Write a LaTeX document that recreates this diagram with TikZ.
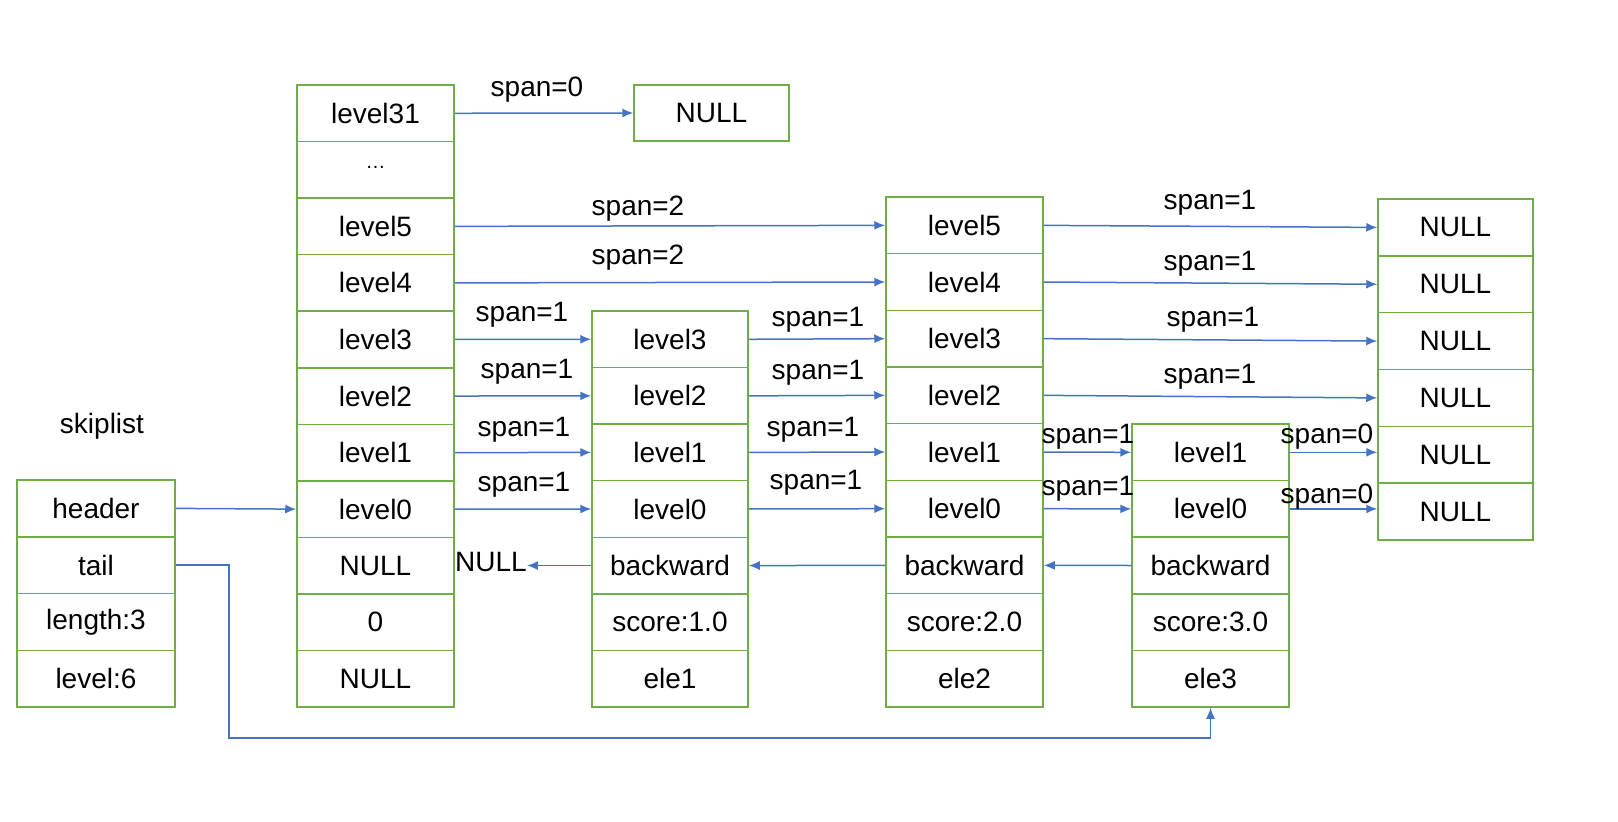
\documentclass[tikz,border=0pt]{standalone}
\usepackage{fontspec}
\setmainfont{Liberation Sans}
\usetikzlibrary{arrows.meta}
\definecolor{cgreen}{RGB}{112,173,71}
\definecolor{cblue}{RGB}{68,114,196}
\begin{document}
\begin{tikzpicture}[x=1pt,y=-1pt,
  cell/.style={draw=cgreen,line width=1.5pt,rectangle,inner sep=0pt,font=\fontsize{28}{30}\selectfont},
  arr/.style={draw=cblue,line width=1.5pt,-{Latex[length=11pt,width=9pt]}},
  lbl/.style={inner sep=0pt,font=\fontsize{28}{30}\selectfont},
  every node/.style={text=black}]
\useasboundingbox (0,0) rectangle (1618,822);
% skiplist struct
\node[lbl] (title) at (102,426) {skiplist};
\foreach \t [count=\i from 0] in {header,tail,length:3,level:6}
  \node[cell,minimum width=158pt,minimum height=56.75pt] (S\i) at (96,{480+(\i+0.5)*56.75}) {\t};
% header column
\foreach \t [count=\i from 0] in {level31,\raisebox{4pt}{\fontsize{20}{20}\selectfont\ldots},level5,level4,level3,level2,level1,level0,NULL,0,NULL}
  \node[cell,minimum width=157pt,minimum height=56.55pt] (H\i) at (375.5,{85+(\i+0.5)*56.55}) {\t};
% top NULL
\node[cell,minimum width=155pt,minimum height=56pt] (N0) at (711.5,113) {NULL};
% node 1
\foreach \t [count=\i from 0] in {level3,level2,level1,level0,backward,score:1.0,ele1}
  \node[cell,minimum width=156pt,minimum height=56.57pt] (A\i) at (670,{311+(\i+0.5)*56.57}) {\t};
% node 2
\foreach \t [count=\i from 0] in {level5,level4,level3,level2,level1,level0,backward,score:2.0,ele2}
  \node[cell,minimum width=157pt,minimum height=56.67pt] (B\i) at (964.5,{197+(\i+0.5)*56.67}) {\t};
% node 3
\foreach \t [count=\i from 0] in {level1,level0,backward,score:3.0,ele3}
  \node[cell,minimum width=157pt,minimum height=56.6pt] (C\i) at (1210.5,{424+(\i+0.5)*56.6}) {\t};
% right NULL column
\foreach \i in {0,...,5}
  \node[cell,minimum width=155pt,minimum height=56.83pt] (R\i) at (1455.5,{199+(\i+0.5)*56.83}) {NULL};
% NULL for backward
\node[lbl] (NB) at (491,562) {NULL};
% arrows
\draw[arr] (S0.east) -- (H7.west);
\draw[arr] (H0.east) -- (N0.west);
\draw[arr] (H2.east) -- (B0.west);
\draw[arr] (H3.east) -- (B1.west);
\draw[arr] (H4.east) -- (A0.west);
\draw[arr] (H5.east) -- (A1.west);
\draw[arr] (H6.east) -- (A2.west);
\draw[arr] (H7.east) -- (A3.west);
\draw[arr] (A0.east) -- (B2.west);
\draw[arr] (A1.east) -- (B3.west);
\draw[arr] (A2.east) -- (B4.west);
\draw[arr] (A3.east) -- (B5.west);
\draw[arr] (B0.east) -- (R0.west);
\draw[arr] (B1.east) -- (R1.west);
\draw[arr] (B2.east) -- (R2.west);
\draw[arr] (B3.east) -- (R3.west);
\draw[arr] (B4.east) -- (C0.west);
\draw[arr] (B5.east) -- (C1.west);
\draw[arr] (C0.east) -- (C0.east -| R4.west);
\draw[arr] (C1.east) -- (C1.east -| R5.west);
\draw[arr] (A4.west) -- (A4.west -| NB.east);
\draw[arr] (B6.west) -- (A4.east);
\draw[arr] (C2.west) -- (B6.east);
\coordinate (tl) at (229,738);
\draw[arr] (S1.east) -- (S1.east -| tl) -- (tl) -- (tl -| C4.south) -- (C4.south);
% span labels
\node[lbl] (s1) at (537,90) {span=0};
\node[lbl] (s2) at (638,209) {span=2};
\node[lbl] (s3) at (638,258) {span=2};
\node[lbl] (s4) at (522,315) {span=1};
\node[lbl] (s5) at (527,372) {span=1};
\node[lbl] (s6) at (524,430) {span=1};
\node[lbl] (s7) at (524,485) {span=1};
\node[lbl] (s8) at (818,320) {span=1};
\node[lbl] (s9) at (818,373) {span=1};
\node[lbl] (s10) at (813,430) {span=1};
\node[lbl] (s11) at (816,483) {span=1};
\node[lbl] (s12) at (1210,203) {span=1};
\node[lbl] (s13) at (1210,264) {span=1};
\node[lbl] (s14) at (1213,320) {span=1};
\node[lbl] (s15) at (1210,377) {span=1};
\node[lbl] (s16) at (1088,437) {span=1};
\node[lbl] (s17) at (1088,489) {span=1};
\node[lbl] (s18) at (1327,437) {span=0};
\node[lbl] (s19) at (1327,497) {span=0};
\end{tikzpicture}
\end{document}
